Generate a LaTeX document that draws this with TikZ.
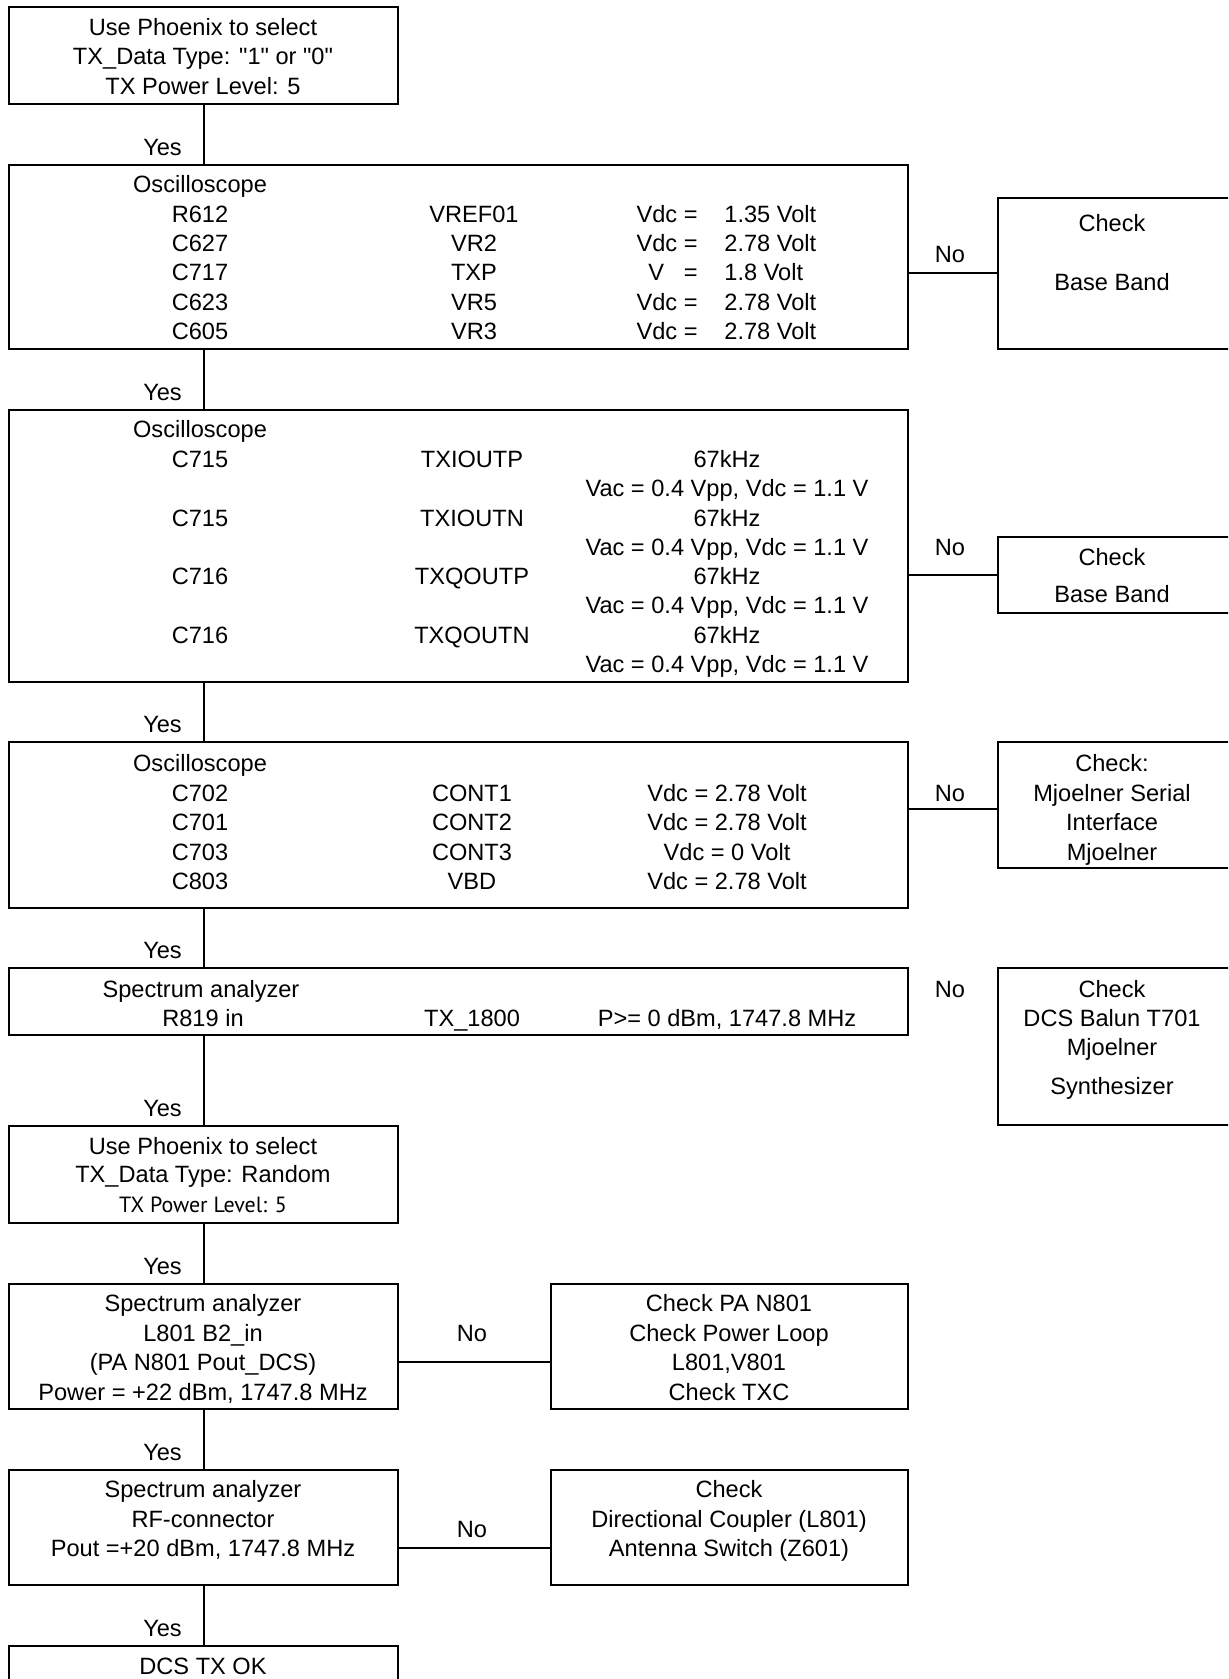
\documentclass[tikz,border=0pt]{standalone}
\usepackage{fontspec}
\setmainfont{Liberation Sans}
\newfontfamily\ptsans{PT Sans}
\usetikzlibrary{calc}

\tikzset{
	box/.style={draw, line width=1.4pt, inner sep=0pt, outer sep=0pt},
	lbl/.style={inner sep=0pt, text height=8.45pt, text depth=0pt},
	wire/.style={line width=1pt},
}

\begin{document}
\begin{tikzpicture}[x=0.5pt, y=-0.5pt, font=\fontsize{11.8}{14.75}\selectfont]
		\clip (0,0) rectangle (1228,1679);
		% boxes of the main column
		\node[box, minimum width=194.5pt, minimum height=48.5pt] (start) at (203.5,55.5) {};
		\node[box, minimum width=449.5pt, minimum height=92pt] (osc1) at (458.5,257) {};
		\node[box, minimum width=449.5pt, minimum height=136pt] (osc2) at (458.5,546) {};
		\node[box, minimum width=449.5pt, minimum height=83pt] (osc3) at (458.5,825) {};
		\node[box, minimum width=449.5pt, minimum height=33.5pt] (spec1) at (458.5,1001.5) {};
		\node[box, minimum width=194.5pt, minimum height=48.5pt] (rand) at (203.5,1174.5) {};
		\node[box, minimum width=194.5pt, minimum height=62.5pt] (spec2) at (203.5,1346.5) {};
		\node[box, minimum width=194.5pt, minimum height=57.5pt] (spec3) at (203.5,1527.5) {};
		\node[box, minimum width=194.5pt, minimum height=50pt] (done) at (203.5,1696) {};
		% check boxes
		\node[box, minimum width=120pt, minimum height=75.5pt] (chk1) at (1118,273.5) {};
		\node[box, minimum width=120pt, minimum height=38pt] (chk2) at (1118,575) {};
		\node[box, minimum width=120pt, minimum height=63pt] (chk3) at (1118,805) {};
		\node[box, minimum width=120pt, minimum height=78.5pt] (chk4) at (1118,1046.5) {};
		\node[box, minimum width=178.5pt, minimum height=62.5pt] (pa1) at (729.5,1346.5) {};
		\node[box, minimum width=178.5pt, minimum height=57.5pt] (pa2) at (729.5,1527.5) {};

		% Yes path
		\foreach \a/\b [count=\i] in {start/osc1, osc1/osc2, osc2/osc3, osc3/spec1, spec1/rand, rand/spec2, spec2/spec3, spec3/done}{
			\draw[wire] (\a.south -| start) -- (\b.north -| start);
			\node[lbl] (yes\i) at ($(\b.north -| start)+(-41,-18)$) {Yes};
		}
		% No branches
		\draw[wire] (osc1.east |- chk1.west) -- (chk1.west);
		\draw[wire] (osc2.east |- chk2.west) -- (chk2.west);
		\draw[wire] ($(osc3.east |- chk3.west)+(0,4)$) -- ($(chk3.west)+(0,4)$);
		\draw[wire] ($(spec2.east)+(0,15)$) -- ($(pa1.west)+(0,15)$);
		\draw[wire] ($(spec3.east)+(0,20)$) -- ($(pa2.west)+(0,20)$);
		\node[lbl] (no1) at (950,254) {No};
		\node[lbl] (no2) at (950,547) {No};
		\node[lbl] (no3) at (950,793) {No};
		\node[lbl] (no4) at (950,989) {No};
		\node[lbl] (no5) at (472,1333) {No};
		\node[lbl] (no6) at (472,1529) {No};

		% texts
		\foreach \t/\y [count=\i] in {Use Phoenix to select/27, TX\_Data Type: \textquotedbl 1\textquotedbl{} or \textquotedbl 0\textquotedbl/56, TX Power Level: 5/86}
			\node[lbl] (start-\i) at (203,\y) {\t};

		\node[lbl] (osc1-h) at (200,184) {Oscilloscope};
		\foreach \a/\b/\c/\d [count=\i] in {R612/VREF01/Vdc =/1.35 Volt, C627/VR2/Vdc =/2.78 Volt, C717/TXP/V\ \ \ =/1.8 Volt, C623/VR5/Vdc =/2.78 Volt, C605/VR3/Vdc =/2.78 Volt}{
			\node[lbl] (osc1-a\i) at (200,{214+(\i-1)*29.25}) {\a};
			\node[lbl] (osc1-b\i) at (474,{214+(\i-1)*29.25}) {\b};
			\node[lbl, anchor=east] (osc1-c\i) at (698,{214+(\i-1)*29.25}) {\c};
			\node[lbl, anchor=west] (osc1-d\i) at (724,{214+(\i-1)*29.25}) {\d};
		}
		\node[lbl] (chk1-1) at (1112,223) {Check};
		\node[lbl] (chk1-2) at (1112,282) {Base Band};

		\node[lbl] (osc2-h) at (200,429) {Oscilloscope};
		\foreach \a/\b [count=\i] in {C715/TXIOUTP, C715/TXIOUTN, C716/TXQOUTP, C716/TXQOUTN}{
			\node[lbl] (osc2-a\i) at (200,{459+(\i-1)*58.7}) {\a};
			\node[lbl] (osc2-b\i) at (472,{459+(\i-1)*58.7}) {\b};
			\node[lbl] (osc2-c\i) at (727,{459+(\i-1)*58.7}) {67kHz};
			\node[lbl] (osc2-d\i) at (727,{488+(\i-1)*58.7}) {Vac = 0.4 Vpp, Vdc = 1.1 V};
		}
		\node[lbl] (chk2-1) at (1112,557) {Check};
		\node[lbl] (chk2-2) at (1112,594) {Base Band};

		\node[lbl] (osc3-h) at (200,763) {Oscilloscope};
		\foreach \a/\b/\c [count=\i] in {C702/CONT1/2.78, C701/CONT2/2.78, C703/CONT3/0, C803/VBD/2.78}{
			\node[lbl] (osc3-a\i) at (200,{793+(\i-1)*29.3}) {\a};
			\node[lbl] (osc3-b\i) at (472,{793+(\i-1)*29.3}) {\b};
			\node[lbl] (osc3-c\i) at (727,{793+(\i-1)*29.3}) {Vdc = \c\ Volt};
		}
		\foreach \t/\y [count=\i] in {Check:/763, Mjoelner Serial/793, Interface/822, Mjoelner/852}
			\node[lbl] (chk3-\i) at (1112,\y) {\t};

		\node[lbl] (spec1-h) at (201,989) {Spectrum analyzer};
		\node[lbl] (spec1-a) at (203,1018) {R819 in};
		\node[lbl] (spec1-b) at (472,1018) {TX\_1800};
		\node[lbl] (spec1-c) at (727,1018) {P>= 0 dBm, 1747.8 MHz};
		\foreach \t/\y [count=\i] in {Check/989, DCS Balun T701/1018, Mjoelner/1047, Synthesizer/1086}
			\node[lbl] (chk4-\i) at (1112,\y) {\t};

		\node[lbl] (rand-1) at (203,1146) {Use Phoenix to select};
		\node[lbl] (rand-2) at (203,1174) {TX\_Data Type: Random};
		\node[lbl, font=\ptsans\fontsize{11}{13}\selectfont] (rand-3) at (203,1204) {TX Power Level: 5};

		\foreach \t/\y [count=\i] in {Spectrum analyzer/1303, L801 B2\_in/1333, (PA N801 Pout\_DCS)/1362, {Power = +22 dBm, 1747.8 MHz}/1392}
			\node[lbl] (spec2-\i) at (203,\y) {\t};
		\foreach \t/\y [count=\i] in {Check PA N801/1303, Check Power Loop/1333, {L801,V801}/1362, Check TXC/1392}
			\node[lbl] (pa1-\i) at (729,\y) {\t};

		\foreach \t/\y [count=\i] in {Spectrum analyzer/1489, RF-connector/1519, {Pout =+20 dBm, 1747.8 MHz}/1548}
			\node[lbl] (spec3-\i) at (203,\y) {\t};
		\foreach \t/\y [count=\i] in {Check/1489, Directional Coupler (L801)/1519, Antenna Switch (Z601)/1548}
			\node[lbl] (pa2-\i) at (729,\y) {\t};

		\node[lbl] (done-1) at (203,1666) {DCS TX OK};
	\end{tikzpicture}
\end{document}
